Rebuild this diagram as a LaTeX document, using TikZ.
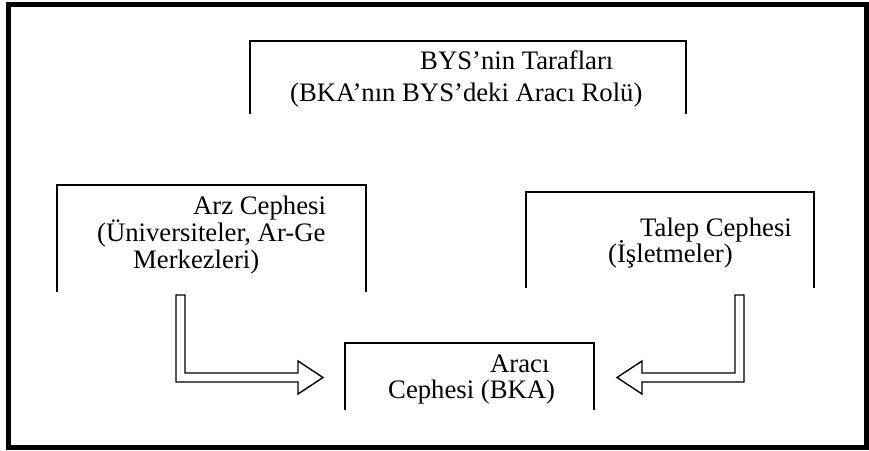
\documentclass[tikz,border=0pt]{standalone}
\usepackage{fontspec}
\setmainfont{Liberation Serif}
\begin{document}
\begin{tikzpicture}[x=1pt,y=-1pt,
  frameline/.style={line width=5pt},
  openbox/.style={line width=2pt},
  boxarea/.style={rectangle, inner sep=0pt, outer sep=0pt, anchor=north west},
  txt/.style={anchor=base west, inner sep=0pt, font=\fontsize{26.7}{32}\selectfont},
  hollow/.style={draw=black, fill=white, line width=1.4pt, line join=miter}]
\useasboundingbox (0,0) rectangle (869,450);
\draw[frameline] (8.5,4.5) rectangle (866.5,447.5);

% boxes (open at the bottom)
\node[boxarea, minimum width=436pt, minimum height=73pt] (bys) at (250,41) {};
\node[boxarea, minimum width=309pt, minimum height=107pt] (arz) at (57,185) {};
\node[boxarea, minimum width=288pt, minimum height=96pt] (talep) at (526,192) {};
\node[boxarea, minimum width=249pt, minimum height=67pt] (araci) at (345,343) {};
\foreach \b in {bys,arz,talep,araci}
  \draw[openbox] (\b.south west) |- (\b.north east) -- (\b.south east);

% texts
\node[txt] (bys1) at (420,69) {BYS’nin Tarafları};
\node[txt] (bys2) at (290,101) {(BKA’nın BYS’deki Aracı Rolü)};
\node[txt] (arz1) at (193,214) {Arz Cephesi};
\node[txt] (arz2) at (97,241) {(Üniversiteler, Ar-Ge};
\node[txt] (arz3) at (133,268) {Merkezleri)};
\node[txt] (tal1) at (640,236) {Talep Cephesi};
\node[txt] (tal2) at (608,262) {(İşletmeler)};
\node[txt] (ara1) at (490,372) {Aracı};
\node[txt] (ara2) at (388,398) {Cephesi (BKA)};

% hollow arrows
\coordinate (s1) at (180.5,295);
\coordinate (t1) at (323,377.5);
\coordinate (s2) at (739.5,295);
\coordinate (t2) at (617,377.5);
\draw[hollow] (s1) ++(-4.5,0) -- ++(0,87) -- ++(122,0) -- ++(0,12) -- (t1)
  -- ++(-25,-16.5) -- ++(0,12) -- ++(-113,0) -- ++(0,-78) -- cycle;
\draw[hollow] (s2) ++(4.5,0) -- ++(0,87) -- ++(-102,0) -- ++(0,12) -- (t2)
  -- ++(25,-16.5) -- ++(0,12) -- ++(93,0) -- ++(0,-78) -- cycle;
\end{tikzpicture}
\end{document}
